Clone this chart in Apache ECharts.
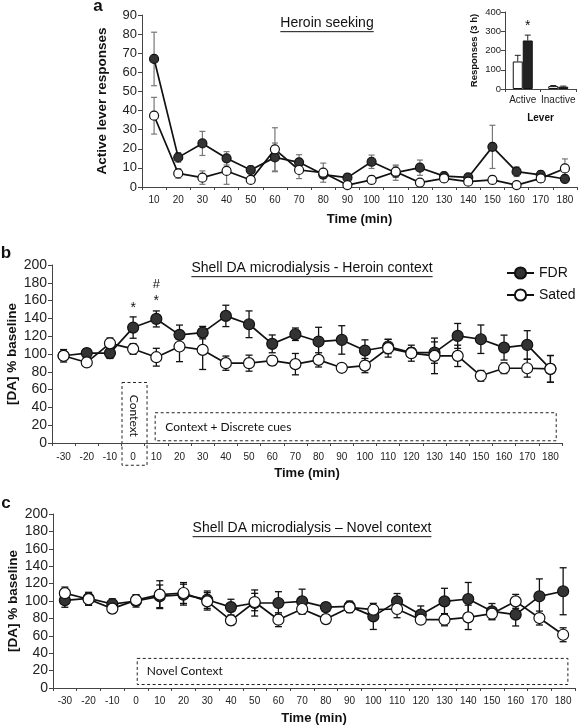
<!DOCTYPE html>
<html><head><meta charset="utf-8">
<script src="https://cdn.jsdelivr.net/npm/echarts@6/dist/echarts.min.js"></script>
<style>html,body{margin:0;padding:0;background:#fff}#c{width:578px;height:726px}</style>
</head><body><div id="c"></div>
<script>
// ---------- Panel a: heroin seeking ----------
const timeA = ['10','20','30','40','50','60','70','80','90','100','110','120','130','140','150','160','170','180'];
const fdrA = [67, 15.5, 22.8, 15, 8.9, 15.5, 12.9, 6.5, 4.9, 13.2, 7.5, 10.1, 5.7, 5, 21, 8, 6.3, 4.2];
const fdrAErr = [14, 2.5, 6.3, 3.5, 2, 7.5, 4, 2, 2, 3.5, 4, 4, 2, 2, 11.3, 2.5, 2, 2];
const satedA = [37.3, 7.1, 4.9, 8.4, 3.7, 19.7, 8.9, 7.5, 1, 3.7, 8, 2.3, 4.5, 2.8, 3.7, 1, 4.5, 9.7];
const satedAErr = [9.6, 2.5, 3.5, 7, 1.5, 11.3, 4.5, 5, 1.5, 2, 3, 1.5, 2, 1.5, 2, 1.5, 2, 5];

// ---------- Inset: total responses ----------
const levers = ['Active', 'Inactive'];
const insetSated = [143, 15];
const insetSatedErr = [32, 3];
const insetFDR = [252, 12];
const insetFDRErr = [28, 3];

// ---------- Panel b: heroin context ----------
const timeB = ['-30','-20','-10','0','10','20','30','40','50','60','70','80','90','100','110','120','130','140','150','160','170','180'];
const fdrB = [98, 101, 101, 129.7, 139.4, 121.5, 124, 142.8, 133.4, 111.4, 122.2, 114, 115.8, 103.9, 108.4, 101.6, 101.6, 120.3, 116.6, 107.2, 110.2, 83.3];
const fdrBErr = [7, 5, 6, 12, 9, 11, 7, 12, 15, 10, 7, 16, 16, 12, 8, 5, 12, 14, 16, 14, 16, 15];
const satedB = [98, 90.5, 112, 105.7, 96.4, 108.4, 104.6, 89.7, 89.7, 92.6, 88.6, 93.4, 84.5, 87, 106.5, 100.9, 97.9, 97.9, 75.5, 84, 84, 83.3];
const satedBErr = [5, 4, 6, 6, 10, 17, 22, 8, 9, 5, 12, 8, 4, 8, 10, 9, 20, 12, 6, 6, 10, 15];

// ---------- Panel c: novel context ----------
const timeC = ['-30','-20','-10','0','10','20','30','40','50','60','70','80','90','100','110','120','130','140','150','160','170','180'];
const fdrC = [100.8, 103, 96.5, 100, 105.4, 107.3, 101.5, 93, 97.7, 97.7, 99.6, 93, 93.8, 82.3, 99.6, 84.3, 99.6, 102.3, 88.1, 84.3, 105.4, 111.2];
const fdrCErr = [8, 7, 6, 7, 13, 12, 10, 9, 15, 13, 14, 5, 6, 15, 9, 10, 15, 19, 9, 13, 20, 27];
const satedC = [109, 102, 91.2, 101, 107.3, 109.2, 99.6, 77.7, 98.8, 78.5, 90.8, 79.2, 92.6, 90, 90.8, 78.5, 78.5, 81.2, 85.4, 99.6, 80.4, 61.2];
const satedCErr = [7, 7, 5, 6, 16, 12, 10, 5, 10, 8, 6, 5, 6, 5, 10, 4, 7, 14, 7, 8, 8, 8];

const FONT = '"Liberation Sans", Arial, sans-serif';
const BOXFONT = 'Lato, "Open Sans", sans-serif';
const AX = '#444';

const chart = echarts.init(document.getElementById('c'));

function errSeries(axisIdx, vals, errs, color, cap, off, upOnly, lw) {
  return {
    type: 'custom', xAxisIndex: axisIdx, yAxisIndex: axisIdx, z: 1, silent: true,
    data: vals.map((v, i) => [i, v, v - errs[i], v + errs[i]]),
    encode: { x: 0, y: 1 },
    renderItem: function (params, api) {
      const i = api.value(0);
      const p = api.coord([i, api.value(1)]);
      const lo = api.coord([i, api.value(2)]);
      const hi = api.coord([i, api.value(3)]);
      const x = p[0] + off;
      const st = { stroke: color, lineWidth: lw };
      const ch = [
        { type: 'line', shape: { x1: x, y1: hi[1], x2: x, y2: upOnly ? p[1] : lo[1] }, style: st },
        { type: 'line', shape: { x1: x - cap, y1: hi[1], x2: x + cap, y2: hi[1] }, style: st }
      ];
      if (!upOnly) ch.push({ type: 'line', shape: { x1: x - cap, y1: lo[1], x2: x + cap, y2: lo[1] }, style: st });
      return { type: 'group', children: ch };
    }
  };
}

function lineSeries(name, axisIdx, vals, filled, size) {
  return {
    name: name, type: 'line', xAxisIndex: axisIdx, yAxisIndex: axisIdx, z: 3,
    data: vals, symbol: 'circle', symbolSize: size, showSymbol: true,
    lineStyle: { color: '#111', width: 1.7 },
    itemStyle: { color: filled ? '#333' : '#fff', borderColor: '#111', borderWidth: 1.2 },
    animation: false
  };
}

function catX(gridIndex, data, fs, margin) {
  return {
    type: 'category', gridIndex: gridIndex, data: data, boundaryGap: true,
    axisLine: { lineStyle: { color: AX, width: 1 } },
    axisTick: { show: true, length: 3, lineStyle: { color: AX } },
    axisLabel: { fontFamily: FONT, fontSize: fs, color: '#222', interval: 0, margin: margin },
    name: 'Time (min)', nameLocation: 'middle', nameMoveOverlap: false,
    nameTextStyle: { fontFamily: FONT, fontSize: 13, fontWeight: 'bold', color: '#111' }
  };
}
function valY(gridIndex, max, interval, fs, name, nameGap) {
  return {
    type: 'value', gridIndex: gridIndex, min: 0, max: max, interval: interval,
    splitLine: { show: false },
    axisLine: { show: true, lineStyle: { color: AX, width: 1 } },
    axisTick: { show: true, length: 4, lineStyle: { color: AX } },
    axisLabel: { fontFamily: FONT, fontSize: fs, color: '#222', margin: 5 },
    name: name, nameLocation: 'middle', nameGap: nameGap, nameRotate: 90, nameMoveOverlap: false,
    nameTextStyle: { fontFamily: FONT, fontSize: 13.5, fontWeight: 'bold', color: '#111' }
  };
}

const xA = catX(0, timeA, 10, 8); xA.nameGap = 26;
const xB = catX(2, timeB, 10, 9); xB.nameGap = 24;
const xC = catX(3, timeC, 10, 8); xC.nameGap = 24;
const xI = {
  type: 'category', gridIndex: 1, data: levers,
  axisLine: { lineStyle: { color: AX } }, axisTick: { show: true, length: 3 },
  axisLabel: { fontFamily: FONT, fontSize: 10, color: '#222', margin: 6, interval: 0 },
  name: 'Lever', nameLocation: 'middle', nameGap: 24, nameMoveOverlap: false,
  nameTextStyle: { fontFamily: FONT, fontSize: 10, fontWeight: 'bold', color: '#111' }
};
const yA = valY(0, 90, 10, 13, 'Active lever responses', 33);
const yI = valY(1, 400, 100, 9.5, 'Responses (3 h)', 26);
yI.nameTextStyle.fontSize = 9.5;
yI.axisLabel.margin = 4;
const yB = valY(2, 200, 20, 14, '[DA] % baseline', 33);
const yC = valY(3, 200, 20, 14, '[DA] % baseline', 33);

const option = {
  animation: false,
  backgroundColor: '#fff',
  textStyle: { fontFamily: FONT },
  grid: [
    { left: 142, top: 15, width: 435, height: 172, outerBoundsMode: 'none', containLabel: false },
    { left: 505, top: 12, width: 71, height: 77, outerBoundsMode: 'none', containLabel: false },
    { left: 52, top: 265, width: 510, height: 178, outerBoundsMode: 'none', containLabel: false },
    { left: 53, top: 514, width: 522, height: 174, outerBoundsMode: 'none', containLabel: false }
  ],
  xAxis: [xA, xI, xB, xC],
  yAxis: [yA, yI, yB, yC],
  legend: {
    data: ['FDR', 'Sated'], orient: 'vertical', left: 501, top: 261, itemGap: 8,
    itemWidth: 27, itemHeight: 14, selectedMode: false,
    textStyle: { fontFamily: FONT, fontSize: 14, color: '#111' }
  },
  series: [
    // panel a
    errSeries(0, fdrA, fdrAErr, '#777', 3, 0, false, 1.2),
    errSeries(0, satedA, satedAErr, '#777', 3, 0, false, 1.2),
    lineSeries('FDR a', 0, fdrA, true, 9),
    lineSeries('Sated a', 0, satedA, false, 9),
    // inset
    {
      name: 'Sated i', type: 'bar', xAxisIndex: 1, yAxisIndex: 1, data: insetSated,
      barWidth: 10, barGap: '0%', z: 2,
      itemStyle: { color: '#fff', borderColor: '#111', borderWidth: 1 }
    },
    {
      name: 'FDR i', type: 'bar', xAxisIndex: 1, yAxisIndex: 1, data: insetFDR,
      barWidth: 10, barGap: '0%', z: 2,
      itemStyle: { color: '#222', borderColor: '#111', borderWidth: 1 }
    },
    errSeries(1, insetSated, insetSatedErr, '#222', 3, -5, true, 1),
    errSeries(1, insetFDR, insetFDRErr, '#222', 3, 5, true, 1),
    // panel b
    errSeries(2, fdrB, fdrBErr, '#111', 3.5, 0, false, 1.3),
    errSeries(2, satedB, satedBErr, '#111', 3.5, 0, false, 1.3),
    lineSeries('FDR', 2, fdrB, true, 11),
    lineSeries('Sated', 2, satedB, false, 11),
    // panel c
    errSeries(3, fdrC, fdrCErr, '#111', 3.5, 0, false, 1.3),
    errSeries(3, satedC, satedCErr, '#111', 3.5, 0, false, 1.3),
    lineSeries('FDR c', 3, fdrC, true, 11),
    lineSeries('Sated c', 3, satedC, false, 11)
  ]
};
chart.setOption(option);

// ---------- annotations placed through the axes ----------
const mctx = document.createElement('canvas').getContext('2d');
function textW(str, size, weight, family) {
  mctx.font = (weight || 'normal') + ' ' + size + 'px ' + family;
  return mctx.measureText(str).width;
}
function P(grid, i, v) { return chart.convertToPixel({ gridIndex: grid }, [i, v]); }

const g = [];
function underlined(str, cx, cy, size) {
  const w = textW(str, size, 'normal', FONT);
  g.push({ type: 'text', x: cx, y: cy, style: { text: str, font: size + 'px ' + FONT, fill: '#111', align: 'center', verticalAlign: 'middle' } });
  g.push({ type: 'line', shape: { x1: cx - w / 2, y1: cy + size * 0.62, x2: cx + w / 2, y2: cy + size * 0.62 }, style: { stroke: '#111', lineWidth: 1 } });
}
function label(str, x, y, size, weight, align, family) {
  g.push({ type: 'text', x: x, y: y, style: { text: str, font: (weight || 'normal') + ' ' + size + 'px ' + (family || FONT), fill: '#111', align: align || 'center', verticalAlign: 'middle' } });
}
function dashedRect(x1, y1, x2, y2) {
  g.push({ type: 'rect', shape: { x: x1, y: y1, width: x2 - x1, height: y2 - y1 }, style: { fill: 'none', stroke: '#222', lineWidth: 1, lineDash: [3, 2.5] } });
}

// panel letters
label('a', 98, 6, 17, 'bold');
label('b', 6, 253, 17, 'bold');
label('c', 6, 503, 17, 'bold');

// titles
underlined('Heroin seeking', 327, 23, 14);
underlined('Shell DA microdialysis - Heroin context', 312, 268, 14);
underlined('Shell DA microdialysis \u2013 Novel context', 312, 528, 14);

// inset significance
const pI = P(1, 0, insetFDR[0] + insetFDRErr[0]);
label('*', pI[0] + 5, pI[1] - 9, 14, 'normal');

// panel b significance
const p0 = P(2, 3, fdrB[3] + fdrBErr[3]);
label('*', p0[0], p0[1] - 9, 14, 'normal');
const p10 = P(2, 4, fdrB[4] + fdrBErr[4]);
label('*', p10[0], p10[1] - 10, 14, 'normal');
label('#', p10[0], p10[1] - 27, 13, 'normal');

// panel b boxes
const b0 = P(2, 3, 68), bstep = P(2, 4, 0)[0] - P(2, 3, 0)[0];
const bBottom = P(2, 3, -25)[1];
dashedRect(b0[0] - bstep * 0.48, b0[1], b0[0] + bstep * 0.6, bBottom);
g.push({ type: 'text', x: b0[0] + 1, y: (b0[1] + bBottom) / 2 - 8, rotation: -Math.PI / 2,
  style: { text: 'Context', font: '12px ' + BOXFONT, fill: '#111', align: 'center', verticalAlign: 'middle' } });
const d1 = P(2, 4, 34), d2 = P(2, 21, 2.5);
dashedRect(d1[0] - bstep * 0.05, d1[1], d2[0] + bstep * 0.25, d2[1]);
label('Context + Discrete cues', d1[0] + 9, (d1[1] + d2[1]) / 2, 12, 'normal', 'left', BOXFONT);

// panel c box
const cstep = P(3, 4, 0)[0] - P(3, 3, 0)[0];
const c1 = P(3, 3, 34), c2 = P(3, 21, 4);
dashedRect(c1[0] + cstep * 0.05, c1[1], c2[0] + cstep * 0.2, c2[1]);
label('Novel Context', c1[0] + cstep * 0.45, (c1[1] + c2[1]) / 2, 12, 'normal', 'left', BOXFONT);

chart.setOption({ graphic: g });
</script>
</body></html>
